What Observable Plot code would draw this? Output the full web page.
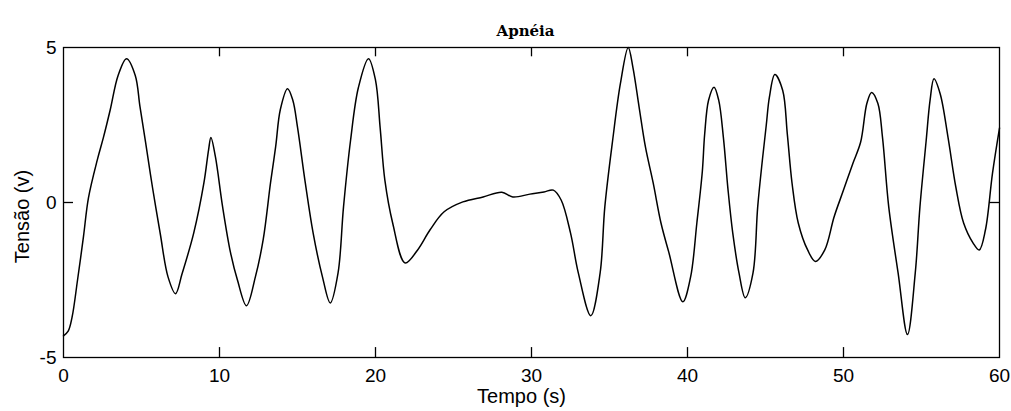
<!DOCTYPE html>
<html><head><meta charset="utf-8">
<script src="https://cdn.jsdelivr.net/npm/d3@7"></script>
<script src="https://cdn.jsdelivr.net/npm/@observablehq/plot@0.6"></script>
<style>body{margin:0;background:#fff}</style>
</head><body><div id="chart"></div>
<script>
const title = "Apnéia";
const xLabel = "Tempo (s)";
const yLabel = "Tensão (v)";
const xTicks = [0, 10, 20, 30, 40, 50, 60];
const yTicks = [-5, 0, 5];
const time = [0, 0.3, 0.55, 0.9, 1.28, 1.6, 2.18, 2.56, 3.0, 3.5, 4.04, 4.6, 4.9, 5.26, 5.7, 6.2, 6.7, 7.18, 7.6, 8.35, 9.0, 9.3, 9.45, 9.74, 10.2, 10.7, 11.15, 11.73, 12.3, 12.8, 13.27, 13.6, 13.9, 14.36, 14.7, 15.0, 15.5, 16.0, 16.6, 17.1, 17.6, 17.95, 18.4, 18.9, 19.55, 20.0, 20.3, 20.6, 21.1, 21.9, 22.7, 23.5, 24.4, 25.6, 26.9, 28.1, 28.8, 29.9, 30.8, 31.4, 31.9, 32.5, 33.0, 33.8, 34.4, 34.7, 35.2, 35.7, 36.2, 36.5, 36.9, 37.3, 37.8, 38.3, 38.8, 39.7, 40.2, 40.6, 40.95, 41.1, 41.35, 41.7, 42.0, 42.3, 42.6, 42.9, 43.3, 43.7, 44.2, 44.5, 44.8, 45.05, 45.25, 45.6, 46.1, 46.4, 46.7, 47.1, 47.7, 48.2, 48.8, 49.4, 50.0, 50.6, 51.1, 51.5, 51.8, 52.2, 52.5, 52.9, 53.5, 54.1, 54.6, 54.9, 55.3, 55.55, 55.8, 56.2, 56.7, 57.2, 57.7, 58.3, 58.7, 59.1, 59.55, 60];
const tension = [-4.3, -4.15, -3.7, -2.5, -1.1, 0.15, 1.4, 2.1, 3.0, 4.1, 4.64, 4.1, 3.1, 1.95, 0.5, -1.0, -2.4, -2.94, -2.3, -0.98, 0.63, 1.7, 2.1, 1.47, -0.14, -1.6, -2.5, -3.33, -2.4, -1.2, 0.63, 1.8, 3.0, 3.67, 3.3, 2.43, 0.63, -0.98, -2.4, -3.24, -2.27, -0.14, 2.0, 3.7, 4.64, 3.95, 2.4, 0.72, -0.66, -1.95, -1.53, -0.88, -0.3, 0.02, 0.18, 0.33, 0.18, 0.27, 0.34, 0.4, 0.08, -0.98, -2.27, -3.65, -2.27, -0.14, 2.0, 3.84, 5.0, 4.36, 3.07, 1.8, 0.63, -0.66, -1.6, -3.2, -2.4, -0.66, 1.0, 2.2, 3.3, 3.72, 3.3, 2.1, 0.4, -0.98, -2.27, -3.07, -2.27, -0.14, 1.37, 2.5, 3.4, 4.13, 3.62, 2.2, 0.63, -0.66, -1.53, -1.9, -1.53, -0.46, 0.4, 1.26, 1.95, 3.2, 3.55, 3.2, 2.1, -0.14, -2.27, -4.26, -2.27, -0.14, 2.0, 3.3, 3.99, 3.5, 2.1, 0.5, -0.66, -1.3, -1.53, -0.88, 0.94, 2.4];

const rows = time.map((t, i) => ({t, v: tension[i]}));
const innerX = xTicks.slice(1, -1);

const chart = Plot.plot({
  width: 1011, height: 411,
  marginLeft: 63, marginRight: 12, marginTop: 47, marginBottom: 54,
  style: {fontFamily: "'Liberation Sans', Arial, sans-serif", fontSize: "19px", color: "black", background: "white"},
  x: {domain: [0, 60]},
  y: {domain: [-5, 5]},
  marks: [
    Plot.frame({stroke: "black", strokeWidth: 1.3}),
    Plot.axisX(xTicks, {tickSize: 0, tickPadding: 11, tickFormat: d => String(d), label: null}),
    Plot.axisY(yTicks, {tickSize: 0, tickPadding: 7, tickFormat: d => String(d), label: null}),
    Plot.ruleX(innerX, {y1: -5, y2: -4.68, stroke: "black", strokeWidth: 1.3}),
    Plot.ruleX(innerX, {y1: 5, y2: 4.7, stroke: "black", strokeWidth: 1.3}),
    Plot.ruleY([0], {x1: 0, x2: 0.64, stroke: "black", strokeWidth: 1.3}),
    Plot.ruleY([0], {x1: 60, x2: 59.36, stroke: "black", strokeWidth: 1.3}),
    Plot.line(rows, {x: "t", y: "v", curve: "catmull-rom", stroke: "black", strokeWidth: 1.5}),
    Plot.text([title], {text: d => d, frameAnchor: "top", dy: -22, dx: -6, fontFamily: "'DejaVu Serif', serif", fontWeight: "bold", fontSize: 15}),
    Plot.text([xLabel], {text: d => d, frameAnchor: "bottom", dy: 45, dx: -10, fontSize: 20}),
    Plot.text([yLabel], {text: d => d, frameAnchor: "left", textAnchor: "middle", rotate: -90, dx: -41, dy: 14, fontSize: 20})
  ]
});
document.getElementById("chart").append(chart);
</script>
</body></html>
